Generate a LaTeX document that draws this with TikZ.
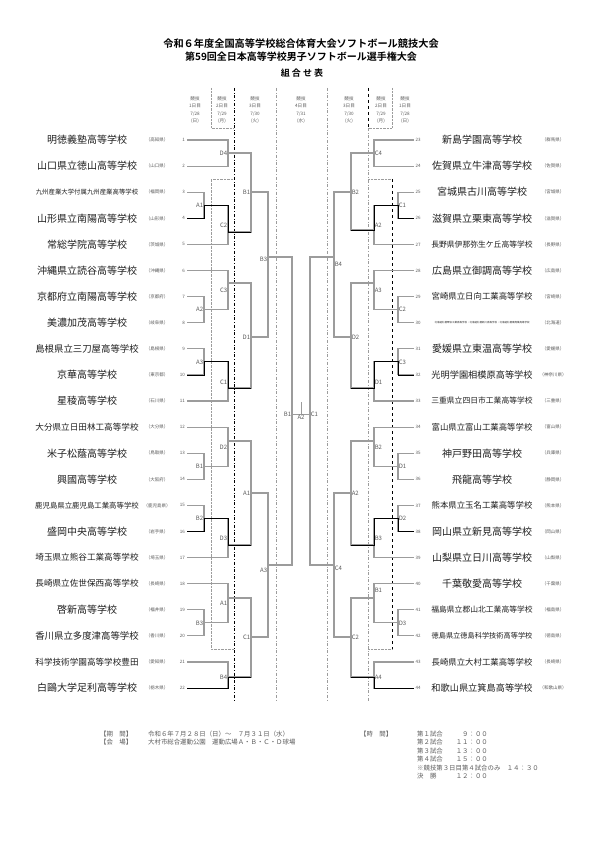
\documentclass[tikz,border=0pt]{standalone}
\usepackage{fontspec}
\setmainfont{Noto Sans CJK JP}[BoldFont={* Bold}]
\definecolor{BracketGray}{HTML}{9C9C9C}
\definecolor{NoteGray}{HTML}{5A5A5A}
\definecolor{SchoolInk}{HTML}{1E1E1E}

\tikzset{
  bracket/.style={BracketGray, line width=1.1pt},
  hiline/.style={black, line width=0.8pt},
  nm/.style={font=\fontsize{#1}{#1}\selectfont, text=SchoolInk, inner sep=0pt},
  nm/.default=10,
  pref/.style={font=\fontsize{4.5}{4.5}\selectfont, text=NoteGray, inner sep=0pt},
  seed/.style={font=\fontsize{4.5}{4.5}\selectfont, text=NoteGray, inner sep=0pt},
  game/.style={font=\fontsize{6}{6}\selectfont, text=NoteGray, inner sep=0.6pt},
  dayhead/.style={font=\fontsize{4.6}{7.3}\selectfont, text=NoteGray, align=center, inner sep=0pt},
  info/.style={font=\fontsize{6.4}{6.4}\selectfont, text=NoteGray, inner sep=0pt, anchor=west},
}

\begin{document}
\begin{tikzpicture}[x=1pt, y=-1pt]
  \useasboundingbox (0,0) rectangle (596,842);

  % title
  \node[font=\bfseries\fontsize{10.2}{10.2}\selectfont] (title1) at (301,44) {令和６年度全国高等学校総合体育大会ソフトボール競技大会};
  \node[font=\bfseries\fontsize{10}{10}\selectfont] (title2) at (301,57) {第59回全日本高等学校男子ソフトボール選手権大会};
  \node[font=\bfseries\fontsize{9}{9}\selectfont] (title3) at (302,73) {組\ 合\ せ\ 表};

  % day columns
  \node[dayhead] (day1l) at (195,110) {競技\\1日目\\7/28\\(日)};
  \node[dayhead] (day2l) at (222,110) {競技\\2日目\\7/29\\(月)};
  \node[dayhead] (day3l) at (255,110) {競技\\3日目\\7/30\\(火)};
  \node[dayhead] (day4) at (301,110) {競技\\4日目\\7/31\\(水)};
  \node[dayhead] (day3r) at (349,110) {競技\\3日目\\7/30\\(火)};
  \node[dayhead] (day2r) at (381,110) {競技\\2日目\\7/29\\(月)};
  \node[dayhead] (day1r) at (405,110) {競技\\1日目\\7/28\\(日)};

  % day separators
  \draw[BracketGray, densely dotted, thin] (211,88) -- (211,128) -- (234,128);
  \draw[BracketGray, densely dotted, thin] (234,179) -- (211,179) -- (211,649) -- (234,649);
  \draw[black, dash dot, semithick] (234,88) -- (234,702);
  \draw[BracketGray, dash dot, thin] (276,88) -- (276,702);
  \draw[BracketGray, dash dot, thin] (327,88) -- (327,702);
  \draw[black, dashed, semithick] (368,88) -- (368,128);
  \draw[BracketGray, dash dot, thin] (368,128) -- (368,702);
  \draw[BracketGray, densely dotted, thin] (392,88) -- (392,128) -- (368,128);
  \draw[BracketGray, densely dotted, thin] (368,179) -- (392,179);
  \draw[BracketGray, densely dotted, thin] (368,649) -- (392,649);
  \draw[black, dashed, semithick] (392,179) -- (392,649);

  % left block, teams 1-22
  \node[nm] (s1) at (87,140.0) {明徳義塾高等学校}; \node[pref] (p1) at (157,140.0) {（高知県）}; \node[seed, anchor=east] (n1) at (185,140.0) {1}; \coordinate (t1) at (187,140.0);
  \node[nm] (s2) at (87,166.1) {山口県立徳山高等学校}; \node[pref] (p2) at (157,166.1) {（山口県）}; \node[seed, anchor=east] (n2) at (185,166.1) {2}; \coordinate (t2) at (187,166.1);
  \node[nm=6.4] (s3) at (87,192.2) {九州産業大学付属九州産業高等学校}; \node[pref] (p3) at (157,192.2) {（福岡県）}; \node[seed, anchor=east] (n3) at (185,192.2) {3}; \coordinate (t3) at (187,192.2);
  \node[nm] (s4) at (87,218.3) {山形県立南陽高等学校}; \node[pref] (p4) at (157,218.3) {（山形県）}; \node[seed, anchor=east] (n4) at (185,218.3) {4}; \coordinate (t4) at (187,218.3);
  \node[nm] (s5) at (87,244.4) {常総学院高等学校}; \node[pref] (p5) at (157,244.4) {（茨城県）}; \node[seed, anchor=east] (n5) at (185,244.4) {5}; \coordinate (t5) at (187,244.4);
  \node[nm] (s6) at (87,270.5) {沖縄県立読谷高等学校}; \node[pref] (p6) at (157,270.5) {（沖縄県）}; \node[seed, anchor=east] (n6) at (185,270.5) {6}; \coordinate (t6) at (187,270.5);
  \node[nm] (s7) at (87,296.6) {京都府立南陽高等学校}; \node[pref] (p7) at (157,296.6) {（京都府）}; \node[seed, anchor=east] (n7) at (185,296.6) {7}; \coordinate (t7) at (187,296.6);
  \node[nm] (s8) at (87,322.7) {美濃加茂高等学校}; \node[pref] (p8) at (157,322.7) {（岐阜県）}; \node[seed, anchor=east] (n8) at (185,322.7) {8}; \coordinate (t8) at (187,322.7);
  \node[nm=9.4] (s9) at (87,348.8) {島根県立三刀屋高等学校}; \node[pref] (p9) at (157,348.8) {（島根県）}; \node[seed, anchor=east] (n9) at (185,348.8) {9}; \coordinate (t9) at (187,348.8);
  \node[nm] (s10) at (87,374.9) {京華高等学校}; \node[pref] (p10) at (157,374.9) {（東京都）}; \node[seed, anchor=east] (n10) at (185,374.9) {10}; \coordinate (t10) at (187,374.9);
  \node[nm] (s11) at (87,401.0) {星稜高等学校}; \node[pref] (p11) at (157,401.0) {（石川県）}; \node[seed, anchor=east] (n11) at (185,401.0) {11}; \coordinate (t11) at (187,401.0);
  \node[nm=8.6] (s12) at (87,427.1) {大分県立日田林工高等学校}; \node[pref] (p12) at (157,427.1) {（大分県）}; \node[seed, anchor=east] (n12) at (185,427.1) {12}; \coordinate (t12) at (187,427.1);
  \node[nm] (s13) at (87,453.2) {米子松蔭高等学校}; \node[pref] (p13) at (157,453.2) {（鳥取県）}; \node[seed, anchor=east] (n13) at (185,453.2) {13}; \coordinate (t13) at (187,453.2);
  \node[nm] (s14) at (87,479.3) {興國高等学校}; \node[pref] (p14) at (157,479.3) {（大阪府）}; \node[seed, anchor=east] (n14) at (185,479.3) {14}; \coordinate (t14) at (187,479.3);
  \node[nm=7.4] (s15) at (87,505.4) {鹿児島県立鹿児島工業高等学校}; \node[pref] (p15) at (157,505.4) {（鹿児島県）}; \node[seed, anchor=east] (n15) at (185,505.4) {15}; \coordinate (t15) at (187,505.4);
  \node[nm] (s16) at (87,531.5) {盛岡中央高等学校}; \node[pref] (p16) at (157,531.5) {（岩手県）}; \node[seed, anchor=east] (n16) at (185,531.5) {16}; \coordinate (t16) at (187,531.5);
  \node[nm=8.6] (s17) at (87,557.6) {埼玉県立熊谷工業高等学校}; \node[pref] (p17) at (157,557.6) {（埼玉県）}; \node[seed, anchor=east] (n17) at (185,557.6) {17}; \coordinate (t17) at (187,557.6);
  \node[nm=8.6] (s18) at (87,583.7) {長崎県立佐世保西高等学校}; \node[pref] (p18) at (157,583.7) {（長崎県）}; \node[seed, anchor=east] (n18) at (185,583.7) {18}; \coordinate (t18) at (187,583.7);
  \node[nm] (s19) at (87,609.8) {啓新高等学校}; \node[pref] (p19) at (157,609.8) {（福井県）}; \node[seed, anchor=east] (n19) at (185,609.8) {19}; \coordinate (t19) at (187,609.8);
  \node[nm=9.4] (s20) at (87,635.9) {香川県立多度津高等学校}; \node[pref] (p20) at (157,635.9) {（香川県）}; \node[seed, anchor=east] (n20) at (185,635.9) {20}; \coordinate (t20) at (187,635.9);
  \node[nm=8.6] (s21) at (87,662.0) {科学技術学園高等学校豊田}; \node[pref] (p21) at (157,662.0) {（愛知県）}; \node[seed, anchor=east] (n21) at (185,662.0) {21}; \coordinate (t21) at (187,662.0);
  \node[nm] (s22) at (87,688.1) {白鷗大学足利高等学校}; \node[pref] (p22) at (157,688.1) {（栃木県）}; \node[seed, anchor=east] (n22) at (185,688.1) {22}; \coordinate (t22) at (187,688.1);

  % right block, teams 23-44
  \node[nm] (s23) at (482,140.0) {新島学園高等学校}; \node[pref] (p23) at (553,140.0) {（群馬県）}; \node[seed, anchor=west] (n23) at (415.5,140.0) {23}; \coordinate (t23) at (414,140.0);
  \node[nm] (s24) at (482,166.1) {佐賀県立牛津高等学校}; \node[pref] (p24) at (553,166.1) {（佐賀県）}; \node[seed, anchor=west] (n24) at (415.5,166.1) {24}; \coordinate (t24) at (414,166.1);
  \node[nm] (s25) at (482,192.2) {宮城県古川高等学校}; \node[pref] (p25) at (553,192.2) {（宮城県）}; \node[seed, anchor=west] (n25) at (415.5,192.2) {25}; \coordinate (t25) at (414,192.2);
  \node[nm] (s26) at (482,218.3) {滋賀県立栗東高等学校}; \node[pref] (p26) at (553,218.3) {（滋賀県）}; \node[seed, anchor=west] (n26) at (415.5,218.3) {26}; \coordinate (t26) at (414,218.3);
  \node[nm=7.8] (s27) at (482,244.4) {長野県伊那弥生ケ丘高等学校}; \node[pref] (p27) at (553,244.4) {（長野県）}; \node[seed, anchor=west] (n27) at (415.5,244.4) {27}; \coordinate (t27) at (414,244.4);
  \node[nm] (s28) at (482,270.5) {広島県立御調高等学校}; \node[pref] (p28) at (553,270.5) {（広島県）}; \node[seed, anchor=west] (n28) at (415.5,270.5) {28}; \coordinate (t28) at (414,270.5);
  \node[nm=8.4] (s29) at (482,296.6) {宮崎県立日向工業高等学校}; \node[pref] (p29) at (553,296.6) {（宮崎県）}; \node[seed, anchor=west] (n29) at (415.5,296.6) {29}; \coordinate (t29) at (414,296.6);
  \node[nm=2.5] (s30) at (482,322.7) {北海道札幌琴似工業高等学校・北海道札幌新川高等学校・北海道札幌東商業高等学校}; \node[pref] (p30) at (553,322.7) {（北海道）}; \node[seed, anchor=west] (n30) at (415.5,322.7) {30}; \coordinate (t30) at (414,322.7);
  \node[nm] (s31) at (482,348.8) {愛媛県立東温高等学校}; \node[pref] (p31) at (553,348.8) {（愛媛県）}; \node[seed, anchor=west] (n31) at (415.5,348.8) {31}; \coordinate (t31) at (414,348.8);
  \node[nm=9.2] (s32) at (482,374.9) {光明学園相模原高等学校}; \node[pref] (p32) at (553,374.9) {（神奈川県）}; \node[seed, anchor=west] (n32) at (415.5,374.9) {32}; \coordinate (t32) at (414,374.9);
  \node[nm=7.8] (s33) at (482,401.0) {三重県立四日市工業高等学校}; \node[pref] (p33) at (553,401.0) {（三重県）}; \node[seed, anchor=west] (n33) at (415.5,401.0) {33}; \coordinate (t33) at (414,401.0);
  \node[nm=8.4] (s34) at (482,427.1) {富山県立富山工業高等学校}; \node[pref] (p34) at (553,427.1) {（富山県）}; \node[seed, anchor=west] (n34) at (415.5,427.1) {34}; \coordinate (t34) at (414,427.1);
  \node[nm] (s35) at (482,453.2) {神戸野田高等学校}; \node[pref] (p35) at (553,453.2) {（兵庫県）}; \node[seed, anchor=west] (n35) at (415.5,453.2) {35}; \coordinate (t35) at (414,453.2);
  \node[nm] (s36) at (482,479.3) {飛龍高等学校}; \node[pref] (p36) at (553,479.3) {（静岡県）}; \node[seed, anchor=west] (n36) at (415.5,479.3) {36}; \coordinate (t36) at (414,479.3);
  \node[nm=8.4] (s37) at (482,505.4) {熊本県立玉名工業高等学校}; \node[pref] (p37) at (553,505.4) {（熊本県）}; \node[seed, anchor=west] (n37) at (415.5,505.4) {37}; \coordinate (t37) at (414,505.4);
  \node[nm] (s38) at (482,531.5) {岡山県立新見高等学校}; \node[pref] (p38) at (553,531.5) {（岡山県）}; \node[seed, anchor=west] (n38) at (415.5,531.5) {38}; \coordinate (t38) at (414,531.5);
  \node[nm] (s39) at (482,557.6) {山梨県立日川高等学校}; \node[pref] (p39) at (553,557.6) {（山梨県）}; \node[seed, anchor=west] (n39) at (415.5,557.6) {39}; \coordinate (t39) at (414,557.6);
  \node[nm] (s40) at (482,583.7) {千葉敬愛高等学校}; \node[pref] (p40) at (553,583.7) {（千葉県）}; \node[seed, anchor=west] (n40) at (415.5,583.7) {40}; \coordinate (t40) at (414,583.7);
  \node[nm=7.8] (s41) at (482,609.8) {福島県立郡山北工業高等学校}; \node[pref] (p41) at (553,609.8) {（福島県）}; \node[seed, anchor=west] (n41) at (415.5,609.8) {41}; \coordinate (t41) at (414,609.8);
  \node[nm=7.2] (s42) at (482,635.9) {徳島県立徳島科学技術高等学校}; \node[pref] (p42) at (553,635.9) {（徳島県）}; \node[seed, anchor=west] (n42) at (415.5,635.9) {42}; \coordinate (t42) at (414,635.9);
  \node[nm=8.4] (s43) at (482,662.0) {長崎県立大村工業高等学校}; \node[pref] (p43) at (553,662.0) {（長崎県）}; \node[seed, anchor=west] (n43) at (415.5,662.0) {43}; \coordinate (t43) at (414,662.0);
  \node[nm=9.2] (s44) at (482,688.1) {和歌山県立箕島高等学校}; \node[pref] (p44) at (553,688.1) {（和歌山県）}; \node[seed, anchor=west] (n44) at (415.5,688.1) {44}; \coordinate (t44) at (414,688.1);

  % left bracket junctions
  \coordinate (lA1) at (204,205.25); \coordinate (lA2) at (204,309.65); \coordinate (lA3) at (204,361.85);
  \coordinate (lB1) at (204,466.25); \coordinate (lB2) at (204,518.45); \coordinate (lB3) at (204,622.85);
  \coordinate (lD4) at (228,153); \coordinate (lC2) at (228,232); \coordinate (lC3) at (228,283); \coordinate (lC1) at (228,388);
  \coordinate (lD2) at (228,441); \coordinate (lD3) at (228,545); \coordinate (lA1b) at (228,598); \coordinate (lB4) at (228,677);
  \coordinate (lB1c) at (251,192); \coordinate (lD1c) at (251,337); \coordinate (lA1c) at (251,493); \coordinate (lC1c) at (251,637);
  \coordinate (lB3d) at (268,257); \coordinate (lA3d) at (268,565);
  \coordinate (semiL) at (292,414);

  % right bracket junctions
  \coordinate (rC1) at (398,205.25); \coordinate (rC2) at (398,309.65); \coordinate (rC3) at (398,361.85);
  \coordinate (rD1) at (398,466.25); \coordinate (rD2) at (398,518.45); \coordinate (rD3) at (398,622.85);
  \coordinate (rC4) at (374,153); \coordinate (rA2) at (374,230); \coordinate (rA3) at (374,283); \coordinate (rD1b) at (374,388);
  \coordinate (rB2) at (374,441); \coordinate (rB3) at (374,545); \coordinate (rB1) at (374,598); \coordinate (rA4) at (374,677);
  \coordinate (rB2c) at (351,192); \coordinate (rD2c) at (351,337); \coordinate (rA2c) at (351,493); \coordinate (rC2c) at (351,637);
  \coordinate (rB4d) at (334,257); \coordinate (rC4d) at (334,565);
  \coordinate (semiR) at (310,414);
  \coordinate (final) at (301,414); \coordinate (finaltop) at (301,402);

  % left bracket lines
  \draw[bracket] (t3) -| (lA1) |- (t4);
  \draw[bracket] (t7) -| (lA2) |- (t8);
  \draw[bracket] (t9) -| (lA3) |- (t10);
  \draw[bracket] (t13) -| (lB1) |- (t14);
  \draw[bracket] (t15) -| (lB2) |- (t16);
  \draw[bracket] (t19) -| (lB3) |- (t20);
  \draw[bracket] (t1) -| (lD4) |- (t2);
  \draw[bracket] (lA1) -| (lC2) |- (t5);
  \draw[bracket] (t6) -| (lC3) |- (lA2);
  \draw[bracket] (lA3) -| (lC1) |- (t11);
  \draw[bracket] (t12) -| (lD2) |- (lB1);
  \draw[bracket] (lB2) -| (lD3) |- (t17);
  \draw[bracket] (t18) -| (lA1b) |- (lB3);
  \draw[bracket] (t21) -| (lB4) |- (t22);
  \draw[bracket] (lD4) -| (lB1c) |- (lC2);
  \draw[bracket] (lC3) -| (lD1c) |- (lC1);
  \draw[bracket] (lD2) -| (lA1c) |- (lD3);
  \draw[bracket] (lA1b) -| (lC1c) |- (lB4);
  \draw[bracket] (lB1c) -| (lB3d) |- (lD1c);
  \draw[bracket] (lA1c) -| (lA3d) |- (lC1c);
  \draw[bracket] (lB3d) -| (semiL) |- (lA3d);

  % right bracket lines
  \draw[bracket] (t25) -| (rC1) |- (t26);
  \draw[bracket] (t29) -| (rC2) |- (t30);
  \draw[bracket] (t31) -| (rC3) |- (t32);
  \draw[bracket] (t35) -| (rD1) |- (t36);
  \draw[bracket] (t37) -| (rD2) |- (t38);
  \draw[bracket] (t41) -| (rD3) |- (t42);
  \draw[bracket] (t23) -| (rC4) |- (t24);
  \draw[bracket] (rC1) -| (rA2) |- (t27);
  \draw[bracket] (t28) -| (rA3) |- (rC2);
  \draw[bracket] (rC3) -| (rD1b) |- (t33);
  \draw[bracket] (t34) -| (rB2) |- (rD1);
  \draw[bracket] (rD2) -| (rB3) |- (t39);
  \draw[bracket] (t40) -| (rB1) |- (rD3);
  \draw[bracket] (t43) -| (rA4) |- (t44);
  \draw[bracket] (rC4) -| (rB2c) |- (rA2);
  \draw[bracket] (rA3) -| (rD2c) |- (rD1b);
  \draw[bracket] (rB2) -| (rA2c) |- (rB3);
  \draw[bracket] (rB1) -| (rC2c) |- (rA4);
  \draw[bracket] (rB2c) -| (rB4d) |- (rD2c);
  \draw[bracket] (rA2c) -| (rC4d) |- (rC2c);
  \draw[bracket] (rB4d) -| (semiR) |- (rC4d);

  % final
  \draw[bracket, line width=0.6pt] (semiL) -- (semiR);
  \draw[bracket, line width=0.6pt] (final) -- (finaltop);

  % highlighted paths
  \draw[hiline] (t4) -| (lA1) -| (lC2) -- (lC2 -| lB1c);
  \draw[hiline] (t10) -| (lA3) -| (lC1) -- (lC1 -| lD1c);
  \draw[hiline] (t16) -| (lB2) -| (lD3) -- (lD3 -| lA1c);
  \draw[hiline] (t22) -| (lB4) -- (lB4 -| lC1c);
  \draw[hiline] (t26) -| (rC1) -| (rA2) -- (rA2 -| rB2c);
  \draw[hiline] (t32) -| (rC3) -| (rD1b) -- (rD1b -| rD2c);
  \draw[hiline] (t38) -| (rD2) -| (rB3) -- (rB3 -| rA2c);
  \draw[hiline] (t44) -| (rA4) -- (rA4 -| rC2c);

  % game labels, left
  \node[game, anchor=east] (gA1) at (lA1) {A1};
  \node[game, anchor=east] (gA2) at (lA2) {A2};
  \node[game, anchor=east] (gA3) at (lA3) {A3};
  \node[game, anchor=east] (gB1) at (lB1) {B1};
  \node[game, anchor=east] (gB2) at (lB2) {B2};
  \node[game, anchor=east] (gB3) at (lB3) {B3};
  \node[game, anchor=east] (gD4) at (228,153) {D4};
  \node[game, anchor=east] (gC2) at (228,225) {C2};
  \node[game, anchor=east] (gC3) at (228,290) {C3};
  \node[game, anchor=east] (gC1) at (228,382) {C1};
  \node[game, anchor=east] (gD2) at (228,447) {D2};
  \node[game, anchor=east] (gD3) at (228,538) {D3};
  \node[game, anchor=east] (gA1b) at (228,603) {A1};
  \node[game, anchor=east] (gB4) at (228,677) {B4};
  \node[game, anchor=east] (gB1c) at (lB1c) {B1};
  \node[game, anchor=east] (gD1c) at (lD1c) {D1};
  \node[game, anchor=east] (gA1c) at (lA1c) {A1};
  \node[game, anchor=east] (gC1c) at (lC1c) {C1};
  \node[game, anchor=east] (gB3d) at (268,259) {B3};
  \node[game, anchor=east] (gA3d) at (268,570) {A3};
  \node[game, anchor=east] (gB1e) at (semiL) {B1};

  % game labels, right
  \node[game, anchor=west] (hC1) at (rC1) {C1};
  \node[game, anchor=west] (hC2) at (rC2) {C2};
  \node[game, anchor=west] (hC3) at (rC3) {C3};
  \node[game, anchor=west] (hD1) at (rD1) {D1};
  \node[game, anchor=west] (hD2) at (rD2) {D2};
  \node[game, anchor=west] (hD3) at (rD3) {D3};
  \node[game, anchor=west] (hC4) at (374,153) {C4};
  \node[game, anchor=west] (hA2) at (374,225) {A2};
  \node[game, anchor=west] (hA3) at (374,290) {A3};
  \node[game, anchor=west] (hD1b) at (374,382) {D1};
  \node[game, anchor=west] (hB2) at (374,447) {B2};
  \node[game, anchor=west] (hB3) at (374,538) {B3};
  \node[game, anchor=west] (hB1) at (374,590) {B1};
  \node[game, anchor=west] (hA4) at (374,677) {A4};
  \node[game, anchor=west] (hB2c) at (rB2c) {B2};
  \node[game, anchor=west] (hD2c) at (rD2c) {D2};
  \node[game, anchor=west] (hA2c) at (rA2c) {A2};
  \node[game, anchor=west] (hC2c) at (rC2c) {C2};
  \node[game, anchor=west] (hB4d) at (334,264) {B4};
  \node[game, anchor=west] (hC4d) at (334,568) {C4};
  \node[game, anchor=west] (hC1e) at (semiR) {C1};
  \node[game, anchor=north] (gfinal) at (final) {A2};

  % schedule notes
  \node[info] (kikan) at (100,734) {【期　間】};
  \node[info] (kikanv) at (148,734) {令和６年７月２８日（日）～　７月３１日（水）};
  \node[info] (kaijo) at (100,742) {【会　場】};
  \node[info] (kaijov) at (148,742) {大村市総合運動公園　運動広場Ａ・Ｂ・Ｃ・Ｄ球場};
  \node[info] (jikan) at (360,734) {【時　間】};
  \node[info] (g1) at (417,734) {第１試合}; \node[info, anchor=east] (g1t) at (488,734) {９：００};
  \node[info] (g2) at (417,742.5) {第２試合}; \node[info, anchor=east] (g2t) at (488,742.5) {１１：００};
  \node[info] (g3) at (417,751) {第３試合}; \node[info, anchor=east] (g3t) at (488,751) {１３：００};
  \node[info] (g4) at (417,759.5) {第４試合}; \node[info, anchor=east] (g4t) at (488,759.5) {１５：００};
  \node[info] (note) at (417,768) {※競技第３日目第４試合のみ　１４：３０};
  \node[info] (kessho) at (417,776.5) {決　勝}; \node[info, anchor=east] (kesshot) at (488,776.5) {１２：００};
\end{tikzpicture}
\end{document}
